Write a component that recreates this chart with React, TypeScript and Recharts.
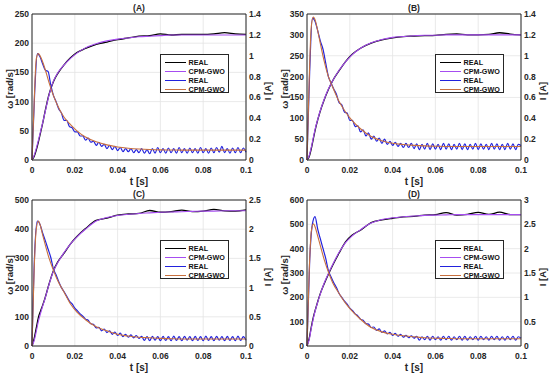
import { LineChart, Line, XAxis, YAxis, CartesianGrid, ReferenceLine } from 'recharts';

// sample times (s) for the smooth curves
const tGrid = [
  0, 0.001, 0.002, 0.003, 0.004, 0.005, 0.006, 0.008, 0.01, 0.012,
  0.015, 0.018, 0.021, 0.025, 0.03, 0.035, 0.04, 0.045, 0.05, 0.055,
  0.06, 0.065, 0.07, 0.075, 0.08, 0.085, 0.09, 0.095, 0.1,
];
// measured current is sampled finer (ripple)
const tFine = Array.from({ length: 81 }, (_, i) => Number((i * 0.00125).toFixed(5)));
const tTicks = [0, 0.02, 0.04, 0.06, 0.08, 0.1];

// (A)
const speedRealA = [0, 6, 17, 31, 47, 63, 81, 113, 134, 148, 163, 175, 184, 191, 198, 202, 206, 209, 212, 213, 216, 214, 215, 215, 215, 216, 218, 216, 215];
const speedModelA = [0, 8, 20, 34, 49, 64, 80, 112, 135, 149, 163, 174, 183, 192, 199, 204, 207, 209, 211, 212, 213, 214, 214, 214, 214, 214, 214, 214, 214];
const currentModelA = [0, 0.55, 0.97, 1.02, 0.99, 0.94, 0.88, 0.74, 0.62, 0.52, 0.41, 0.34, 0.28, 0.22, 0.175, 0.145, 0.125, 0.113, 0.105, 0.1, 0.097, 0.096, 0.095, 0.095, 0.095, 0.095, 0.095, 0.095, 0.095];
const currentRealA = [
  0, 0.65, 1.02, 0.99, 0.92, 0.86, 0.85, 0.72, 0.62, 0.56,
  0.49, 0.45, 0.38, 0.38, 0.32, 0.31, 0.27, 0.27, 0.23, 0.23,
  0.19, 0.21, 0.17, 0.18, 0.14, 0.17, 0.13, 0.15, 0.11, 0.14,
  0.1, 0.13, 0.09, 0.12, 0.08, 0.11, 0.08, 0.11, 0.07, 0.1,
  0.07,
  0.11, 0.065, 0.1, 0.06, 0.11, 0.065, 0.12, 0.07, 0.11, 0.065,
  0.115, 0.07, 0.11, 0.065, 0.12, 0.07, 0.11, 0.065, 0.115, 0.07,
  0.11, 0.065, 0.12, 0.07, 0.11, 0.065, 0.115, 0.07, 0.12, 0.075,
  0.13, 0.07, 0.11, 0.065, 0.115, 0.07, 0.12, 0.07, 0.115, 0.075,
];

// (B)
const speedRealB = [0, 8, 27, 52, 76, 96, 114, 144, 169, 190, 214, 236, 253, 268, 280, 288, 293, 296, 297, 298, 299, 301, 302, 300, 300, 301, 305, 302, 300];
const speedModelB = [0, 10, 30, 55, 78, 97, 115, 145, 170, 190, 215, 235, 252, 268, 281, 289, 294, 296, 298, 299, 299, 300, 300, 300, 300, 300, 300, 300, 300];
const currentModelB = [0, 0.75, 1.28, 1.37, 1.33, 1.24, 1.14, 0.95, 0.8, 0.7, 0.56, 0.46, 0.38, 0.3, 0.225, 0.185, 0.16, 0.148, 0.14, 0.135, 0.132, 0.13, 0.13, 0.13, 0.13, 0.13, 0.13, 0.13, 0.13];
const currentRealB = [
  0, 0.85, 1.36, 1.33, 1.24, 1.14, 1.06, 0.93, 0.8, 0.74,
  0.68, 0.63, 0.55, 0.53, 0.46, 0.45, 0.38, 0.38, 0.32, 0.33,
  0.27, 0.29, 0.23, 0.26, 0.2, 0.23, 0.18, 0.21, 0.16, 0.2,
  0.15, 0.18, 0.14, 0.17, 0.13, 0.16, 0.12, 0.16, 0.12, 0.16,
  0.11,
  0.155, 0.1, 0.15, 0.105, 0.16, 0.1, 0.155, 0.105, 0.15, 0.1,
  0.16, 0.105, 0.155, 0.1, 0.15, 0.105, 0.16, 0.1, 0.155, 0.1,
  0.15, 0.105, 0.16, 0.1, 0.155, 0.105, 0.15, 0.1, 0.16, 0.105,
  0.155, 0.1, 0.15, 0.1, 0.16, 0.105, 0.155, 0.1, 0.15, 0.14,
];

// (C)
const speedRealC = [0, 25, 62, 98, 120, 140, 162, 213, 258, 287, 318, 350, 375, 402, 430, 438, 448, 452, 454, 464, 458, 460, 465, 460, 462, 468, 463, 462, 466];
const speedModelC = [0, 18, 50, 85, 112, 137, 160, 212, 256, 285, 320, 350, 374, 400, 428, 440, 447, 451, 454, 456, 458, 459, 460, 461, 462, 462, 463, 463, 463];
const currentModelC = [0, 1.3, 2.0, 2.14, 2.05, 1.9, 1.76, 1.5, 1.3, 1.12, 0.92, 0.72, 0.58, 0.45, 0.33, 0.26, 0.2, 0.17, 0.15, 0.14, 0.13, 0.125, 0.12, 0.12, 0.12, 0.12, 0.12, 0.12, 0.12];
const currentRealC = [
  0, 1.6, 2.14, 2.08, 1.93, 1.8, 1.66, 1.52, 1.32, 1.22,
  1.1, 1.0, 0.93, 0.85, 0.77, 0.72, 0.65, 0.6, 0.55, 0.51,
  0.46, 0.44, 0.38, 0.37, 0.31, 0.32, 0.26, 0.29, 0.23, 0.26,
  0.2, 0.24, 0.18, 0.22, 0.16, 0.2, 0.15, 0.19, 0.14, 0.18,
  0.13,
  0.165, 0.095, 0.16, 0.09, 0.165, 0.1, 0.16, 0.09, 0.165, 0.095,
  0.16, 0.09, 0.17, 0.095, 0.16, 0.09, 0.165, 0.1, 0.16, 0.09,
  0.165, 0.095, 0.16, 0.09, 0.17, 0.095, 0.16, 0.09, 0.165, 0.1,
  0.16, 0.09, 0.165, 0.095, 0.16, 0.09, 0.17, 0.095, 0.16, 0.1,
];

// (D)
const speedRealD = [0, 30, 78, 120, 152, 182, 210, 255, 295, 332, 382, 428, 455, 476, 507, 518, 525, 531, 533, 538, 540, 548, 538, 541, 549, 541, 550, 540, 540];
const speedModelD = [0, 25, 72, 115, 150, 180, 208, 258, 298, 335, 385, 425, 452, 478, 505, 520, 527, 531, 534, 537, 538, 539, 540, 540, 540, 540, 540, 540, 540];
const currentModelD = [0, 1.5, 2.35, 2.51, 2.42, 2.26, 2.1, 1.78, 1.52, 1.3, 1.08, 0.88, 0.72, 0.55, 0.38, 0.29, 0.24, 0.21, 0.19, 0.17, 0.16, 0.155, 0.15, 0.15, 0.15, 0.15, 0.15, 0.15, 0.15];
const currentRealD = [
  0, 1.75, 2.5, 2.66, 2.4, 2.2, 2.0, 1.8, 1.55, 1.42,
  1.3, 1.2, 1.08, 1.0, 0.92, 0.86, 0.78, 0.73, 0.66, 0.62,
  0.55, 0.53, 0.46, 0.45, 0.38, 0.39, 0.32, 0.35, 0.28, 0.31,
  0.25, 0.28, 0.22, 0.26, 0.2, 0.24, 0.18, 0.22, 0.17, 0.21,
  0.16,
  0.2, 0.12, 0.19, 0.13, 0.2, 0.12, 0.2, 0.13, 0.19, 0.12,
  0.2, 0.13, 0.2, 0.12, 0.19, 0.13, 0.2, 0.12, 0.2, 0.12,
  0.19, 0.13, 0.2, 0.12, 0.2, 0.13, 0.19, 0.12, 0.2, 0.13,
  0.2, 0.12, 0.19, 0.12, 0.2, 0.13, 0.2, 0.12, 0.19, 0.16,
];

const C_REAL_W = '#000000';
const C_MODEL_W = '#a64df0';
const C_REAL_I = '#2222dd';
const C_MODEL_I = '#c8703e';
const AX = '#262626';
const FONT = '"Liberation Sans", Arial, sans-serif';

const zip = (t: number[], v: number[]) => t.map((x, i) => ({ t: x, v: v[i] }));

const legendItems = [
  { name: 'REAL', color: C_REAL_W },
  { name: 'CPM-GWO', color: C_MODEL_W },
  { name: 'REAL', color: C_REAL_I },
  { name: 'CPM-GWO', color: C_MODEL_I },
];

type PanelProps = {
  title: string;
  left: number;
  top: number;
  height: number;
  wMax: number;
  wTicks: number[];
  iMax: number;
  iTicks: number[];
  wReal: number[];
  wModel: number[];
  iReal: number[];
  iModel: number[];
};

function Panel({ title, left, top, height, wMax, wTicks, iMax, iTicks, wReal, wModel, iReal, iModel }: PanelProps) {
  const tick = { fontSize: 8.5, fill: AX, fontFamily: FONT, fontWeight: 600 };
  const lab = { position: 'absolute' as const, whiteSpace: 'nowrap' as const, fontSize: 9.5, fontWeight: 600 };
  return (
    <div style={{ position: 'absolute', left, top, width: 275, height, fontFamily: FONT, color: AX }}>
      <LineChart width={275} height={height} margin={{ top: 14, right: 0, bottom: 0, left: 0 }}>
        <CartesianGrid yAxisId="w" stroke="#e4e4e4" strokeWidth={0.8} />
        <XAxis dataKey="t" type="number" domain={[0, 0.1]} ticks={tTicks} height={height - 160} tickLine={false} tickSize={0} tickMargin={7} stroke={AX} tick={tick} tickFormatter={(v: number) => String(v)} />
        <YAxis yAxisId="w" domain={[0, wMax]} ticks={wTicks} width={32} tickLine={false} tickSize={0} tickMargin={3} stroke={AX} tick={tick} />
        <YAxis yAxisId="i" orientation="right" domain={[0, iMax]} ticks={iTicks} width={29} tickLine={false} tickSize={0} tickMargin={3} stroke={AX} tick={tick} />
        <ReferenceLine yAxisId="w" y={wMax} stroke={AX} />
        <Line yAxisId="w" data={zip(tGrid, wReal)} dataKey="v" type="monotone" stroke={C_REAL_W} strokeWidth={1.3} dot={false} isAnimationActive={false} />
        <Line yAxisId="w" data={zip(tGrid, wModel)} dataKey="v" type="monotone" stroke={C_MODEL_W} strokeWidth={1.1} dot={false} isAnimationActive={false} />
        <Line yAxisId="i" data={zip(tFine, iReal)} dataKey="v" type="monotone" stroke={C_REAL_I} strokeWidth={1.2} dot={false} isAnimationActive={false} />
        <Line yAxisId="i" data={zip(tGrid, iModel)} dataKey="v" type="monotone" stroke={C_MODEL_I} strokeWidth={1.1} dot={false} isAnimationActive={false} />
      </LineChart>
      <div style={{ ...lab, left: 139, top: 8, transform: 'translate(-50%, -50%)', fontSize: 8.5, fontWeight: 'bold' }}>{title}</div>
      <div style={{ ...lab, left: 139, top: 180.5, transform: 'translate(-50%, -50%)', fontSize: 10 }}>t [s]</div>
      <div style={{ ...lab, left: 8.5, top: 89, transform: 'translate(-50%, -50%) rotate(-90deg)' }}>ω [rad/s]</div>
      <div style={{ ...lab, left: 267, top: 91, transform: 'translate(-50%, -50%) rotate(-90deg)' }}>I [A]</div>
      <div style={{ position: 'absolute', left: 160, top: 54, width: 69, height: 39, boxSizing: 'border-box', border: `1px solid ${AX}`, background: '#fff', paddingTop: 2.5 }}>
        {legendItems.map((it, k) => (
          <div key={k} style={{ display: 'flex', alignItems: 'center', height: 9, fontSize: 7.2, fontWeight: 600, lineHeight: '9px', color: '#111' }}>
            <span style={{ display: 'inline-block', width: 21, marginLeft: 3.5, marginRight: 3, borderTop: `1.2px solid ${it.color}` }} />
            <span>{it.name}</span>
          </div>
        ))}
      </div>
    </div>
  );
}

export default function App() {
  return (
    <div style={{ position: 'fixed', left: 0, top: 0, width: 550, height: 373, background: '#fff' }}>
      <Panel title="(A)" left={0} top={0} height={186} wMax={250} wTicks={[0, 50, 100, 150, 200, 250]} iMax={1.4} iTicks={[0, 0.2, 0.4, 0.6, 0.8, 1, 1.2, 1.4]} wReal={speedRealA} wModel={speedModelA} iReal={currentRealA} iModel={currentModelA} />
      <Panel title="(B)" left={275} top={0} height={186} wMax={350} wTicks={[0, 50, 100, 150, 200, 250, 300, 350]} iMax={1.4} iTicks={[0, 0.2, 0.4, 0.6, 0.8, 1, 1.2, 1.4]} wReal={speedRealB} wModel={speedModelB} iReal={currentRealB} iModel={currentModelB} />
      <Panel title="(C)" left={0} top={186} height={187} wMax={500} wTicks={[0, 100, 200, 300, 400, 500]} iMax={2.5} iTicks={[0, 0.5, 1, 1.5, 2, 2.5]} wReal={speedRealC} wModel={speedModelC} iReal={currentRealC} iModel={currentModelC} />
      <Panel title="(D)" left={275} top={186} height={187} wMax={600} wTicks={[0, 100, 200, 300, 400, 500, 600]} iMax={3} iTicks={[0, 0.5, 1, 1.5, 2, 2.5, 3]} wReal={speedRealD} wModel={speedModelD} iReal={currentRealD} iModel={currentModelD} />
    </div>
  );
}
